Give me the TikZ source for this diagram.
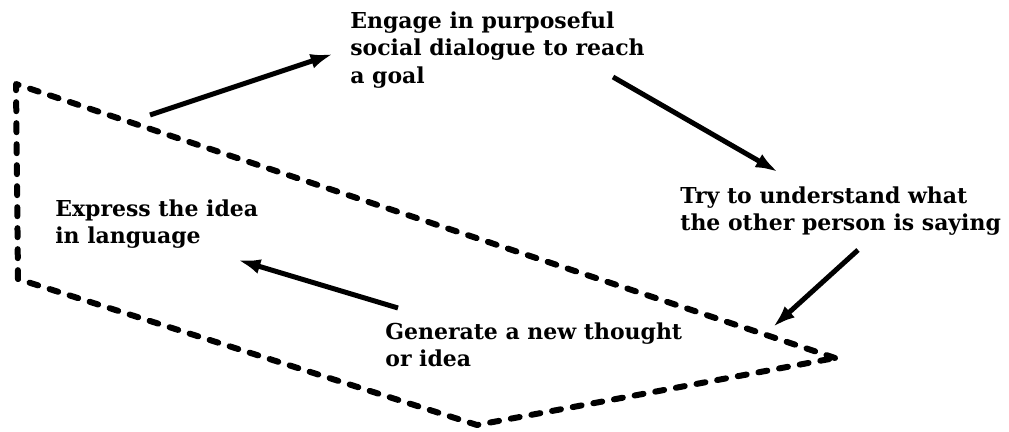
\documentclass[tikz,border=0pt]{standalone}
\usepackage{fontspec}
\setmainfont{DejaVu Serif}
\usepackage{tikz}
\usetikzlibrary{positioning}
\usetikzlibrary{arrows.meta}

\tikzset{
  step text/.style={inner sep=0pt, anchor=north west, align=left,
    font=\bfseries\fontsize{12.5}{15.9}\selectfont},
  loopline/.style={line width=0.12cm, dash pattern=on 0.18cm off 0.24cm,
    line cap=round, line join=round},
  flow/.style={line width=0.1cm, -{Latex[length=0.45cm,width=0.3cm]}}
}

\begin{document}
\begin{tikzpicture}[x=0.02cm, y=-0.02cm]
\useasboundingbox (0,0) rectangle (1009,432);
%%%%%%%%%%%%%%
\node[step text] (engage) at (350,11) {Engage in purposeful\\social dialogue to reach\\a goal};
\node[step text] (try) at (680,186) {Try to understand what\\the other person is saying};
\node[step text] (express) at (55,199) {Express the idea\\in language};
\node[step text] (generate) at (385,322) {Generate a new thought\\or idea};
%%%%%%%%%%%%%%
\coordinate (cTL) at (16,84);
\coordinate (cBL) at (18,279);
\coordinate (cB) at (477,425);
\coordinate (cR) at (835,358);
%%%%%%%%%%%%%%
\coordinate (a1s) at (150,115);
\coordinate (a1e) at (333,54);
\coordinate (a2s) at (613,77);
\coordinate (a2e) at (778,172);
\coordinate (a3s) at (858,250);
\coordinate (a3e) at (773,327);
\coordinate (a4s) at (398,308);
\coordinate (a4e) at (238,260);

\draw[loopline] (cR) -- (cTL) -- (cBL) -- (cB) -- cycle;

\draw[flow] (a1s) -- (a1e);
\draw[flow] (a2s) -- (a2e);
\draw[flow] (a3s) -- (a3e);
\draw[flow] (a4s) -- (a4e);

\end{tikzpicture}
\end{document}
